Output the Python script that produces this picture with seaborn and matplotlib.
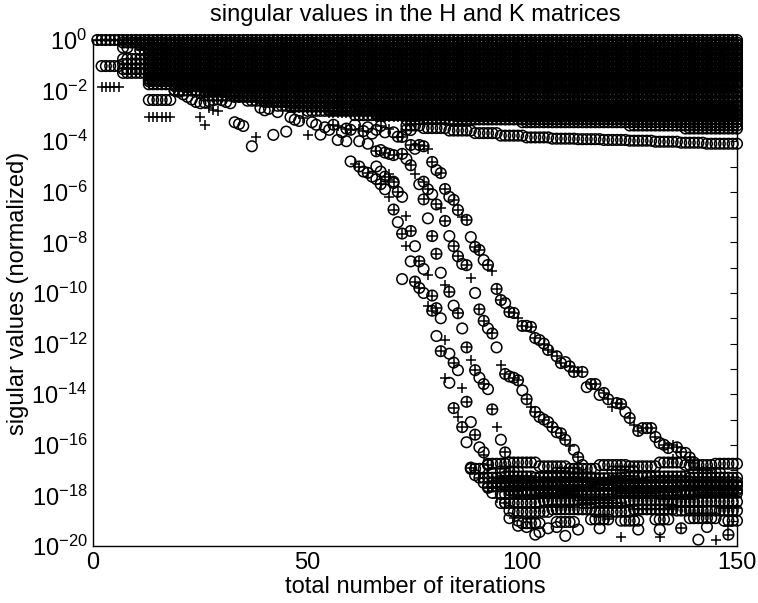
import numpy as np
import pandas as pd
import matplotlib
matplotlib.use("Agg")
import matplotlib.pyplot as plt
import seaborn as sns
from matplotlib.ticker import FixedLocator, FuncFormatter, NullLocator

# All values are log10 of the normalized singular values.
# kind: 'h' = singular value of H only, 'k' = of K only, 'b' = shared by H and K

# --- upper band: values held over a range of iterations ---
band_first = [1, 2, 2, 7, 7, 7, 7, 7,
              11, 11, 11,
              13, 13, 13, 13, 13, 13, 13, 13, 13, 13, 13, 13, 13,
              13, 13,
              19, 19, 26, 26, 33, 36, 40, 43, 46, 50, 55, 61, 66, 73,
              100, 115, 125, 138,
              7, 13, 13, 13, 13, 13, 13, 13, 19, 26, 33, 40, 46, 55, 66, 85]
band_last = [150, 6, 6, 8, 12, 12, 12, 12,
             150, 150, 150,
             150, 150, 150, 150, 150, 150, 150, 150, 150, 150, 150, 150, 150,
             18, 18,
             150, 150, 150, 150, 150, 150, 150, 150, 150, 150, 150, 150, 150, 150,
             150, 150, 150, 150,
             150, 150, 150, 150, 150, 150, 150, 150, 150, 150, 150, 150, 150, 150, 150, 150]
band_log = [0.0, -1.03, -1.85, -0.3, -0.75, -0.95, -1.15, -1.3,
            -0.2, -0.4, -0.3,
            -0.6, -0.5, -0.8, -0.7, -1.0, -0.9, -1.2, -1.1, -1.4, -1.3, -1.63, -1.5, -1.75,
            -2.37, -3.04,
            -1.9, -2.0, -2.1, -2.2, -2.3, -2.4, -2.5, -2.6, -2.7, -2.8, -2.88, -2.97, -3.05, -3.14,
            -3.25, -3.2, -3.38, -3.5,
            -0.1, -0.3, -0.5, -0.7, -0.9, -1.1, -1.3, -1.52, -1.82, -2.05, -2.25, -2.45, -2.63, -2.76, -2.92, -3.02]
band_kind = ("bhkhhhhh" "bbk" "bkbkbkbkbkbkb" "hk"
             "khkhkhkhkhkhkh" "hkhh"
             "bbbbbbbbbbbbhhhh")

# --- slowly decreasing H value below the band ---
tail_first = [73, 77, 83, 89, 95, 101, 107, 113, 119, 125, 131, 137, 143]
tail_last = [76, 82, 88, 94, 100, 106, 112, 118, 124, 130, 136, 142, 150]
tail_log = [-3.38, -3.48, -3.58, -3.68, -3.78, -3.85, -3.9, -3.92, -3.95,
            -3.98, -4.02, -4.06, -4.1]
tail_kind = "hhhhhhhhhhhhh"

# --- round-off floor near 1e-17 .. 1e-19 ---
floor_first = [88, 92, 97, 104, 111, 118, 125, 132, 138, 145,
               95, 108, 121, 140,
               90, 96, 103, 110, 117, 124, 131, 139,
               93, 103, 116, 129,
               92, 100, 109, 118, 127, 137,
               97, 109, 122, 136,
               95, 104, 113, 122, 132, 141,
               96, 105, 114, 124, 135,
               98, 107, 117, 126, 136,
               101, 108, 116, 123, 131, 139, 147,
               93, 101, 113, 126, 139,
               94, 105, 120, 134,
               99, 111, 123, 137,
               98, 110, 125, 140,
               103, 118, 134, 146]
floor_last = [91, 96, 103, 110, 117, 124, 131, 137, 144, 150,
              99, 113, 126, 146,
              95, 102, 109, 116, 123, 130, 138, 150,
              102, 115, 128, 150,
              99, 108, 117, 126, 136, 150,
              108, 121, 135, 150,
              103, 112, 121, 131, 140, 150,
              104, 113, 123, 134, 150,
              106, 116, 125, 135, 150,
              104, 112, 120, 127, 134, 145, 150,
              100, 112, 125, 138, 150,
              104, 119, 133, 150,
              110, 122, 136, 150,
              109, 124, 139, 150,
              112, 126, 142, 150]
floor_log = [-16.95, -16.75, -16.7, -16.85, -16.95, -16.8, -16.85, -16.7, -16.8, -16.75,
             -17.05, -17.1, -17.05, -17.1,
             -17.3, -17.25, -17.3, -17.28, -17.32, -17.28, -17.25, -17.3,
             -17.5, -17.48, -17.52, -17.48,
             -17.65, -17.6, -17.65, -17.58, -17.68, -17.62,
             -17.8, -17.78, -17.82, -17.8,
             -17.95, -17.92, -18.0, -17.9, -17.95, -17.9,
             -18.3, -18.2, -18.3, -18.2, -18.25,
             -18.65, -18.55, -18.65, -18.55, -18.6,
             -19.1, -19.05, -18.95, -19.0, -18.95, -18.9, -19.0,
             -17.45, -17.42, -17.45, -17.42, -17.45,
             -17.38, -17.36, -17.4, -17.38,
             -17.75, -17.72, -17.75, -17.72,
             -18.05, -18.05, -18.1, -18.05,
             -18.45, -18.4, -18.45, -18.5]
floor_kind = ("hhhhhhhhhh" "hhhh" "hbhhbhbh" "bbbb" "bhbhbh" "bbbb"
              "hbhbhb" "hhbhh" "hhhbh" "hhhhhhh"
              "kkkkk" "kkkk" "kkkk" "kkkk" "kkkk")

# --- decaying singular values, one value per iteration ---
a1_iter = list(range(60, 101))
a1_log = [-4.8, -4.9, -5.0, -5.2, -5.25, -5.4, -5.5, -5.7, -5.9, -6.2,
          -6.7, -7.2, -7.65, -8.15, -8.75, -9.55, -9.8, -10.0, -10.5, -10.7,
          -11.7, -12.3, -13.35, -13.55, -14.55, -14.9, -15.3, -15.9, -16.9, -17.2,
          -17.3, -17.5, -17.7, -17.9, -18.1, -18.3, -18.3, -18.6, -18.9, -19.0, -19.1]
a1_kind = "hkbhbhhbhk" "bhbkhbbhkb" "hbkhbkbhbh" "khbhkhbhkh" "h"

a2_iter = list(range(66, 94))
a2_log = [-5.0, -5.2, -5.4, -5.55, -5.65, -6.0, -6.2, -6.95, -7.55, -8.15,
          -8.75, -9.05, -9.3, -10.1, -10.6, -11.0, -11.85, -12.4, -12.75, -13.05,
          -13.75, -14.3, -15.1, -15.6, -16.1, -16.4, -16.8, -17.1]
a2_kind = "hhbkhbhkbh" "bhkbbhkhbh" "kbhbhkbh"

b_iter = list(range(72, 98))
b_log = [-4.5, -4.7, -4.95, -5.3, -5.7, -6.3, -7.05, -7.75, -8.45, -9.2,
         -9.7, -9.95, -10.5, -10.8, -11.4, -12.15, -12.65, -13.05, -13.35, -13.6,
         -13.8, -14.6, -15.3, -15.8, -16.3, -16.7]
b_kind = "bhbkhbhbbh" "kbhbhbkbhb" "hbkhbh"

c_iter = list(range(77, 115))
c_log = [-5.6, -5.9, -6.1, -6.5, -6.65, -7.15, -7.75, -8.15, -8.55, -8.85,
         -8.9, -9.4, -10.0, -10.65, -11.1, -11.4, -11.6, -12.15, -12.85, -13.2,
         -13.3, -13.35, -13.45, -13.85, -14.2, -14.5, -14.7, -14.9, -15.0, -15.1,
         -15.3, -15.5, -15.55, -15.8, -16.05, -16.2, -16.5, -16.8]
c_kind = "bbhbkbhbbh" "bkhbbhbhkb" "hbbhbkbhbh" "bhbbkhbh"

d_iter = [72, 74] + list(range(76, 141))
d_log = [-3.83, -3.56, -4.15, -4.2, -4.3, -4.82, -5.14, -5.26, -5.89, -6.2,
         -6.32, -6.72, -7.0, -7.11, -7.79, -8.18, -8.3, -8.7, -8.89, -9.13,
         -9.84, -10.28, -10.4, -10.75, -10.79, -11.0, -11.3, -11.3, -11.34, -11.78,
         -11.86, -12.0, -12.25, -12.33, -12.5, -12.77, -12.73, -12.9, -13.12, -13.1,
         -13.12, -13.72, -13.6, -13.6, -14.03, -13.95, -14.2, -14.5, -14.35, -14.39,
         -14.7, -14.94, -15.2, -15.45, -15.34, -15.34, -15.34, -15.69, -15.93, -16.0,
         -16.13, -16.0, -16.1, -16.3, -16.32, -16.5, -16.7]
d_kind = ("bhbbkbhbbh" "bbkbhbbhbk" "bbhbbkbhbb" "hbbkbbhbbk"
          "bhbbhbbkbb" "hbkbbhbbhb" "bkbbhbb")

# --- isolated values under the band ---
extra_iter = [19, 20, 21, 22, 23, 24, 25, 26, 27, 28, 29, 30, 31, 32,
              25, 26, 27, 28, 29,
              33, 34, 35, 37, 38, 39, 40, 41, 42, 43,
              45, 46, 47, 48, 49, 50, 51, 52, 53, 54,
              55, 56, 57, 57, 58, 59, 59, 60, 61, 62,
              62, 63, 64, 64, 65, 66, 66, 67, 67, 68,
              68, 69, 69, 69, 70, 70, 70, 71, 72, 73,
              74, 75]
extra_log = [-1.97, -2.05, -2.15, -2.25, -2.35, -2.45, -2.5, -2.47, -2.42, -2.38, -2.35, -2.38, -2.45, -2.5,
             -3.05, -3.35, -2.7, -2.75, -2.8,
             -3.25, -3.32, -3.4, -4.2, -3.82, -2.68, -2.78, -2.72, -3.75, -2.85,
             -3.62, -3.05, -3.15, -3.2, -3.1, -3.74, -3.25, -3.35, -3.74, -3.45,
             -3.55, -3.35, -3.95, -3.4, -3.65, -4.0, -3.5, -3.55, -3.35, -4.0,
             -3.5, -3.6, -4.1, -3.45, -3.7, -4.4, -3.55, -4.35, -3.4, -4.45,
             -3.65, -4.5, -3.5, -5.3, -4.55, -3.65, -5.6, -3.82, -9.45, -3.55,
             -4.15, -4.3]
extra_kind = ("hhhhhhhhhhhhhh" "kkkkk" "hhhhkhhhhh" "hhhhkkhhhh"
              "hbhkhhbbhh" "kbhhhbhhbb" "hhkkbhbbhb" "bh")

# --- isolated values around the floor ---
low_iter = [91, 135, 97, 99, 101, 102, 103, 104, 106, 108, 110, 113,
            118, 120, 123, 127, 132, 132, 137, 141, 143, 145, 148, 148]
low_log = [-16.3, -16.55, -18.9, -19.2, -19.25, -18.9, -19.55, -19.45, -19.3, -19.25, -19.6, -19.35,
           -19.3, -18.95, -19.65, -19.35, -19.35, -19.65, -19.3, -19.75, -19.25, -19.75, -19.55, -19.2]
low_kind = "hkhhhkhhhhhhhkkhhkbhhkbk"


def expand_runs(first, last, logv, kinds):
    it, lv, kd = [], [], []
    for a, b, v, k in zip(first, last, logv, kinds):
        for n in range(a, b + 1):
            it.append(n)
            lv.append(v)
            kd.append(k)
    return it, lv, kd


pieces = [
    expand_runs(band_first, band_last, band_log, band_kind),
    expand_runs(tail_first, tail_last, tail_log, tail_kind),
    expand_runs(floor_first, floor_last, floor_log, floor_kind),
    (a1_iter, a1_log, a1_kind),
    (a2_iter, a2_log, a2_kind),
    (b_iter, b_log, b_kind),
    (c_iter, c_log, c_kind),
    (d_iter, d_log, d_kind),
    (extra_iter, extra_log, extra_kind),
    (low_iter, low_log, low_kind),
]
df = pd.concat(
    [pd.DataFrame({"iteration": it, "log10": lv, "kind": list(kd)}) for it, lv, kd in pieces],
    ignore_index=True,
)
df["value"] = 10.0 ** df["log10"]
sv_H = df[df["kind"].isin(["h", "b"])]
sv_K = df[df["kind"].isin(["k", "b"])]

# --- figure ---
sns.set_theme(style="white")
plt.rcParams.update({
    "font.family": ["Liberation Sans", "DejaVu Sans"],
    "mathtext.fontset": "custom",
    "mathtext.rm": "Liberation Sans",
    "mathtext.it": "Liberation Sans:italic",
    "mathtext.bf": "Liberation Sans:bold",
    "axes.edgecolor": "black",
    "axes.linewidth": 1.0,
    "axes.labelcolor": "black",
    "text.color": "black",
    "xtick.color": "black",
    "ytick.color": "black",
})

fig = plt.figure(figsize=(7.58, 6.03), dpi=100)
ax = fig.add_axes([93 / 758, 1 - 546 / 603, (737 - 93) / 758, (546 - 40) / 603])
ax.set_yscale("log")

sns.scatterplot(data=sv_H, x="iteration", y="value", marker="o", s=58,
                color="black", facecolors="none", edgecolor="black",
                linewidth=1.1, ax=ax, legend=False, clip_on=False)
sns.scatterplot(data=sv_K, x="iteration", y="value", marker="+", s=58,
                color="black", linewidth=1.1, ax=ax, legend=False, clip_on=False)

ax.set_xlim(0, 150)
ax.set_ylim(1e-20, 1e0)
ax.set_xticks([0, 50, 100, 150])
ax.yaxis.set_major_locator(FixedLocator([10.0 ** e for e in range(-20, 1)]))
ax.yaxis.set_minor_locator(NullLocator())


def decade_label(v, pos):
    e = int(round(np.log10(v)))
    return r"$\mathdefault{10^{%d}}$" % e if e % 2 == 0 else ""


ax.yaxis.set_major_formatter(FuncFormatter(decade_label))
ax.tick_params(direction="in", length=5, width=0.8, top=True, right=True,
               labelsize=17, pad=4)

ax.set_title("singular values in the H and K matrices", fontsize=17, pad=14)
ax.set_xlabel("total number of iterations", fontsize=17, labelpad=2)
ax.set_ylabel("sigular values (normalized)", fontsize=17, labelpad=2)
for sp in ax.spines.values():
    sp.set_visible(True)
    sp.set_color("black")

fig.savefig("out.png", dpi=100)
